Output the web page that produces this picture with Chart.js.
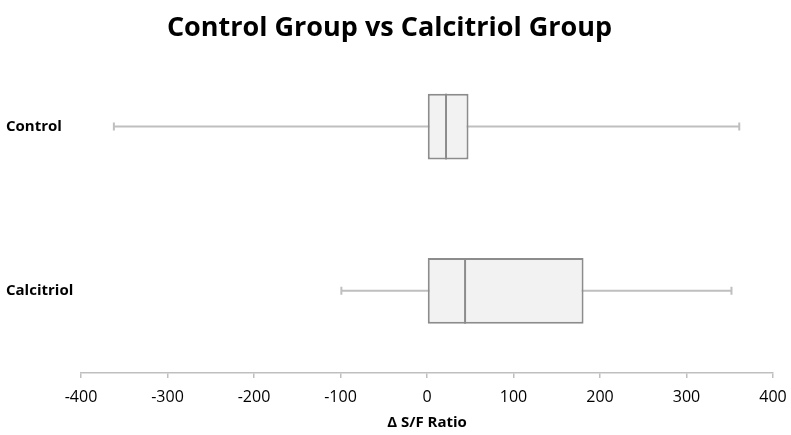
<!DOCTYPE html>
<html>
<head>
<meta charset="utf-8">
<script src="https://cdn.jsdelivr.net/npm/chart.js@4.4.1/dist/chart.umd.min.js"></script>
<style>
	html, body { margin: 0; padding: 0; background: #fff; }
	#wrap { width: 791px; height: 435px; }
</style>
</head>
<body>
<div id="wrap"><canvas id="boxChart"></canvas></div>
<script>
// 그룹별 박스플롯 값 (Δ S/F Ratio)
const groups = ['Control', 'Calcitriol'];
const minValues = [-362, -99];
const q1Values = [0, 0];
const medianValues = [22, 44];
const q3Values = [48, 181];
const maxValues = [361, 352];
const xTicks = [-400, -300, -200, -100, 0, 100, 200, 300, 400];

const FONT = "'Open Sans', 'Liberation Sans', sans-serif";
const LINE = '#bfbfbf';
const BOX_LINE = '#8c8c8c';

// 수염 + 중앙값 그리기
const boxExtras = {
	id: 'boxExtras',
	beforeDatasetsDraw: (chart) => {
		const ctx = chart.ctx;
		const x = chart.scales.x;
		const y = chart.scales.y;
		ctx.save();
		ctx.strokeStyle = LINE;
		ctx.lineWidth = 2;
		groups.forEach((g, i) => {
			const cy = y.getPixelForValue(i);
			const x0 = x.getPixelForValue(minValues[i]);
			const x1 = x.getPixelForValue(maxValues[i]);
			ctx.beginPath();
			ctx.moveTo(x0, cy); ctx.lineTo(x1, cy);
			ctx.moveTo(x0, cy - 4); ctx.lineTo(x0, cy + 4);
			ctx.moveTo(x1, cy - 4); ctx.lineTo(x1, cy + 4);
			ctx.stroke();
		});
		ctx.restore();
	},
	afterDatasetsDraw: (chart) => {
		const ctx = chart.ctx;
		const x = chart.scales.x;
		const meta = chart.getDatasetMeta(0);
		ctx.save();
		ctx.strokeStyle = BOX_LINE;
		ctx.lineWidth = 2;
		meta.data.forEach((bar, i) => {
			const mx = x.getPixelForValue(medianValues[i]);
			const h = bar.height / 2;
			ctx.beginPath();
			ctx.moveTo(mx, bar.y - h); ctx.lineTo(mx, bar.y + h);
			ctx.stroke();
		});
		ctx.restore();
	}
};

const ctx = document.getElementById('boxChart');
new Chart(ctx, {
	type: 'bar',
	data: {
		labels: groups,
		datasets: [{
			data: groups.map((g, i) => [q1Values[i], q3Values[i]]),
			backgroundColor: '#f2f2f2',
			borderColor: BOX_LINE,
			borderWidth: 2,
			borderSkipped: false,
			categoryPercentage: 1,
			barPercentage: 0.4
		}]
	},
	plugins: [boxExtras],
	options: {
		indexAxis: 'y',
		responsive: true,
		maintainAspectRatio: false,
		animation: false,
		layout: { padding: { left: 6, right: 18 } },
		plugins: {
			legend: { display: false },
			tooltip: { enabled: false },
			title: {
				display: true,
				text: 'Control Group vs Calcitriol Group',
				color: '#000',
				font: { family: FONT, size: 27, weight: 'bold' },
				padding: { top: 12, bottom: 0 }
			}
		},
		scales: {
			x: {
				min: -400,
				max: 400,
				afterBuildTicks: (scale) => { scale.ticks = xTicks.map(v => ({ value: v })); },
				afterFit: (scale) => {
					scale.height = 62;
					scale.paddingLeft = 0;
					scale.paddingRight = 0;
				},
				grid: { drawOnChartArea: false, drawTicks: true, tickLength: 5, color: LINE, lineWidth: 1.5 },
				border: { display: true, color: LINE, width: 1.5 },
				ticks: { color: '#000', padding: 10, font: { family: FONT, size: 16 } },
				title: {
					display: true,
					text: 'Δ S/F Ratio',
					color: '#000',
					font: { family: FONT, size: 15, weight: 'bold' },
					padding: { top: 4, bottom: 3 }
				}
			},
			y: {
				afterFit: (scale) => { scale.width = 75; },
				grid: { display: false },
				border: { display: false },
				ticks: { color: '#000', crossAlign: 'far', font: { family: FONT, size: 15, weight: 'bold' } }
			}
		}
	}
});
</script>
</body>
</html>
